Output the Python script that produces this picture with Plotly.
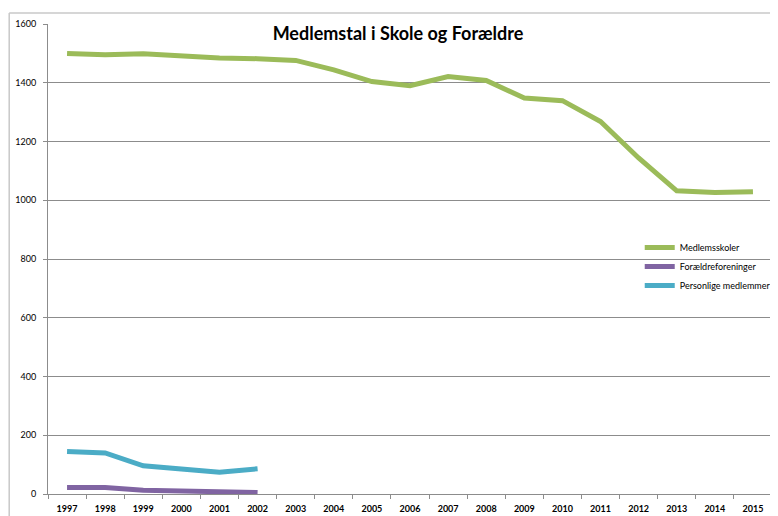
import plotly.graph_objects as go

years = [str(y) for y in range(1997, 2016)]
medlemsskoler = [1500, 1495, 1499, 1490, 1484, 1482, 1476, 1444, 1404, 1390,
                 1421, 1408, 1348, 1339, 1268, 1144, 1032, 1026, 1029]
foraeldreforeninger = [22, 22, 13, 10, 7, 5]
personlige = [145, 140, 96, 86, 74, 86]

FONT = "Lato, 'Open Sans', sans-serif"
GRID = "#8c8c8c"

fig = go.Figure()
fig.add_trace(go.Scatter(x=years, y=medlemsskoler, mode="lines", name="Medlemsskoler",
                         line=dict(color="#9BBB59", width=5)))
fig.add_trace(go.Scatter(x=years[:6], y=foraeldreforeninger, mode="lines", name="Forældreforeninger",
                         line=dict(color="#8064A2", width=5)))
fig.add_trace(go.Scatter(x=years[:6], y=personlige, mode="lines", name="Personlige medlemmer",
                         line=dict(color="#4BACC6", width=5)))

# page has an 8px body margin, so the figure is laid out 8px up/left
W, H = 770, 508
L, R, T, B = 40, 2, 16, 22
pw = W - L - R
ph = H - T - B

def px_x(px):
    return (px - L) / pw

def px_y(py):
    return 1 - (py - T) / ph

fig.update_layout(
    width=W, height=H,
    margin=dict(l=L, r=R, t=T, b=B),
    paper_bgcolor="white", plot_bgcolor="white",
    font=dict(family=FONT, size=9, color="#000000"),
    title=dict(text="<b>Medlemstal i Skole og Forældre</b>", x=390 / W, xanchor="center",
               y=1 - 26 / H, yanchor="middle", font=dict(family=FONT, size=18, color="#000")),
    showlegend=True,
    legend=dict(x=px_x(635), xanchor="left", y=px_y(225), yanchor="top",
                bgcolor="rgba(255,255,255,0)", font=dict(family=FONT, size=9), itemwidth=30,
                tracegroupgap=0),
    xaxis=dict(type="category", tickson="boundaries", ticks="outside", ticklen=4,
               tickcolor=GRID, showline=True, linecolor=GRID, linewidth=1,
               showgrid=False, tickfont=dict(family=FONT, size=9, weight="bold"),
               ticklabelstandoff=6, range=[-0.5, 18.5]),
    yaxis=dict(range=[0, 1600], dtick=200, ticks="outside", ticklen=4, tickcolor=GRID,
               showline=True, linecolor=GRID, linewidth=1, showgrid=True, gridcolor=GRID,
               gridwidth=1, zeroline=False, tickfont=dict(family=FONT, size=9),
               ticklabelstandoff=5),
    shapes=[
        dict(type="line", xref="paper", yref="paper", x0=px_x(1), x1=px_x(W),
             y0=px_y(5), y1=px_y(5), line=dict(color="#c8c8c8", width=1.5)),
        dict(type="line", xref="paper", yref="paper", x0=px_x(1), x1=px_x(1),
             y0=px_y(5), y1=px_y(H), line=dict(color="#c8c8c8", width=1.5)),
    ],
)

fig.write_html("out.html")
